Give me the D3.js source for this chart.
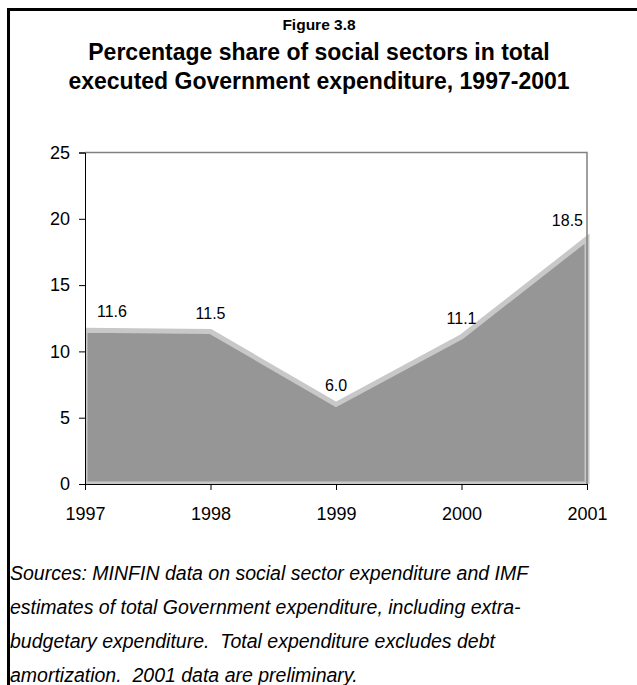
<!DOCTYPE html>
<html>
<head>
<meta charset="utf-8">
<script src="https://cdn.jsdelivr.net/npm/d3@7"></script>
<style>
  body { margin: 0; background: #fff; }
  svg { display: block; font-family: "Liberation Sans", Arial, sans-serif; }
</style>
</head>
<body>
<div id="d3-container"></div>
<script>
// chart data
const years = ["1997", "1998", "1999", "2000", "2001"];
const shares = [11.6, 11.5, 6.0, 11.1, 18.5];
const yTicks = [0, 5, 10, 15, 20, 25];

const titleLines = [
  "Percentage share of social sectors in total",
  "executed Government expenditure, 1997-2001"
];
const noteLines = [
  "Sources: MINFIN data on social sector expenditure and IMF",
  "estimates of total Government expenditure, including extra-",
  "budgetary expenditure.  Total expenditure excludes debt",
  "amortization.  2001 data are preliminary."
];

let W = 637, H = 685;
let margin = { top: 152.5, left: 85, right: 50, bottom: 201 };
let width = W - margin.left - margin.right,
    height = H - margin.top - margin.bottom;

let svg = d3.select("#d3-container")
  .append("svg")
  .attr("width", W)
  .attr("height", H);

// outer frame (runs off the right and bottom of the picture)
svg.append("rect")
  .attr("x", 8.5).attr("y", 9.5)
  .attr("width", 700).attr("height", 700)
  .attr("fill", "none")
  .attr("stroke", "#000")
  .attr("stroke-width", 3);

// titles
svg.append("text")
  .attr("x", 319).attr("y", 30)
  .attr("text-anchor", "middle")
  .style("font-size", "15.5px").style("font-weight", "bold")
  .text("Figure 3.8");

svg.selectAll(".title")
  .data(titleLines)
  .join("text")
  .attr("class", "title")
  .attr("x", 319)
  .attr("y", (d, i) => 60 + i * 29)
  .attr("text-anchor", "middle")
  .style("font-size", "23px").style("font-weight", "bold")
  .text(d => d);

let g = svg.append("g")
  .attr("transform", `translate(${margin.left},${margin.top})`);

const x = d3.scalePoint()
  .domain(years)
  .range([0, width]);

const y = d3.scaleLinear()
  .domain([0, 25])
  .range([height, 0]);

// clip for the area
g.append("clipPath").attr("id", "plotclip")
  .append("rect")
  .attr("x", 0).attr("y", -5)
  .attr("width", width + 3).attr("height", height + 5);

const area = d3.area()
  .x((d, i) => x(years[i]))
  .y0(y(0))
  .y1(d => y(d));

g.append("path")
  .datum(shares)
  .attr("clip-path", "url(#plotclip)")
  .attr("d", area)
  .attr("fill", "#969696")
  .attr("stroke", "#c8c8c8")
  .attr("stroke-width", 5)
  .attr("stroke-linejoin", "miter");

// plot frame top / right
g.append("path")
  .attr("d", `M0,0H${width}V${height}`)
  .attr("fill", "none")
  .attr("stroke", "#808080")
  .attr("stroke-width", 1.5);

// axes
let yAxis = g.append("g")
  .call(d3.axisLeft(y).tickValues(yTicks).tickSize(6).tickPadding(9));
let xAxis = g.append("g")
  .attr("transform", `translate(0,${height})`)
  .call(d3.axisBottom(x).tickSize(6).tickPadding(17));

[yAxis, xAxis].forEach(a => {
  a.select(".domain").attr("stroke", "#000");
  a.selectAll(".tick line").attr("stroke", "#000");
  a.selectAll("text")
    .style("font-family", "Liberation Sans, Arial, sans-serif")
    .style("font-size", "18px")
    .attr("fill", "#000");
});

// data labels
g.selectAll(".lbl")
  .data(shares)
  .join("text")
  .attr("class", "lbl")
  .attr("x", (d, i) => x(years[i]) + (i === 0 ? 12 : i === shares.length - 1 ? -4 : 0))
  .attr("y", d => y(d) - 13)
  .attr("text-anchor", (d, i) => i === 0 ? "start" : i === shares.length - 1 ? "end" : "middle")
  .style("font-size", "16px")
  .text(d => d.toFixed(1));

// footnote (last line runs off the bottom, as in the source)
svg.selectAll(".note")
  .data(noteLines)
  .join("text")
  .attr("class", "note")
  .attr("x", 10)
  .attr("y", (d, i) => 580 + i * 34)
  .attr("xml:space", "preserve")
  .style("white-space", "pre")
  .style("font-size", "19.5px").style("font-style", "italic")
  .text(d => d);
</script>
</body>
</html>
